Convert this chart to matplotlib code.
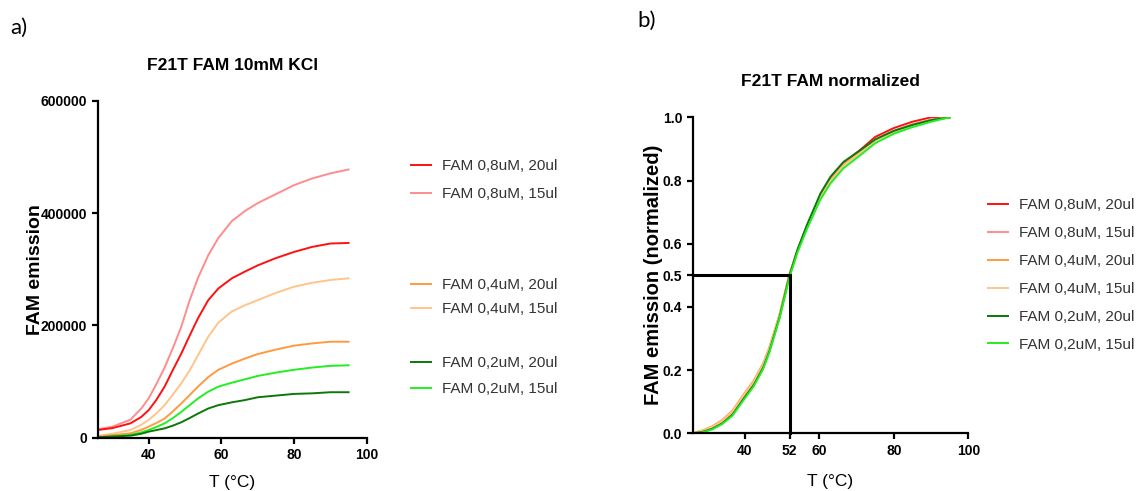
import matplotlib
matplotlib.use("Agg")
import matplotlib.pyplot as plt
from matplotlib.ticker import FuncFormatter

# ---------------- data ----------------
temp_a = [26, 30, 35, 38, 40, 42.1, 44.4, 46.7, 49, 51.3, 53.6, 56.4, 59.2, 62.9, 66.5, 70, 75, 80, 85, 90, 95]

# raw FAM emission (panel a)
fam08_20 = [13700, 17000, 25500, 37000, 49000, 67000, 91000, 121000, 150000, 182000, 213000, 245000,
            266000, 284000, 296000, 307000, 320000, 331000, 340000, 346000, 347000]
fam08_15 = [15000, 19600, 32000, 52000, 70000, 95000, 125000, 160000, 198000, 245000, 285000, 325000,
            356000, 386000, 404000, 418000, 434000, 450000, 462000, 471000, 478000]
fam04_20 = [2000, 4500, 7700, 14000, 19600, 26000, 34000, 47000, 61000, 76000, 91000, 108000,
            121000, 132000, 141000, 149000, 157000, 164000, 168000, 171000, 171000]
fam04_15 = [3000, 7000, 13700, 23000, 31500, 43000, 58000, 77000, 97000, 120000, 147000, 180000,
            205000, 225000, 236000, 245000, 258000, 269000, 276000, 281000, 284000]
fam02_20 = [600, 2000, 3600, 7000, 10700, 13500, 16600, 21500, 27500, 35000, 43000, 52000,
            58000, 63000, 67000, 72000, 75000, 78000, 79000, 81000, 81000]
fam02_15 = [600, 2500, 4800, 9500, 13700, 19000, 25500, 35000, 46000, 58000, 70000, 82000,
            91000, 98000, 104000, 110000, 116000, 121000, 125000, 128000, 129000]

# normalized FAM emission (panel b)
temp_b = [26, 28.5, 31.2, 33.9, 36.7, 39.6, 42.4, 44.9, 46.6, 49.3, 52, 54.2, 56.7, 60.3, 63, 66.5,
          71, 75, 80, 85, 90, 95]
norm08_20 = [0, .006, .017, .035, .064, .113, .158, .212, .265, .370, .500, .581, .656, .752, .806, .855,
             .897, .938, .966, .986, 1.0, 1.0]
norm08_15 = [0, .006, .018, .036, .065, .114, .159, .213, .266, .371, .501, .581, .655, .750, .803, .851,
             .892, .930, .958, .978, .993, 1.0]
norm04_20 = [0, .009, .022, .042, .072, .122, .167, .221, .273, .376, .505, .582, .654, .748, .800, .849,
             .889, .927, .956, .976, .991, 1.0]
norm04_15 = [0, .008, .020, .039, .069, .119, .163, .217, .270, .373, .503, .580, .652, .746, .798, .847,
             .887, .925, .954, .975, .990, 1.0]
norm02_20 = [0, .004, .014, .031, .059, .108, .153, .207, .260, .366, .500, .583, .660, .759, .812, .859,
             .896, .930, .957, .976, .991, 1.0]
norm02_15 = [0, .003, .012, .029, .056, .104, .149, .203, .256, .362, .494, .574, .647, .740, .791, .839,
             .880, .918, .948, .969, .986, 1.0]

labels = ["FAM 0,8uM, 20ul", "FAM 0,8uM, 15ul", "FAM 0,4uM, 20ul",
          "FAM 0,4uM, 15ul", "FAM 0,2uM, 20ul", "FAM 0,2uM, 15ul"]
colors = ["#FF1010", "#FF8C8C", "#FF9A40", "#FFC48C", "#0A780A", "#22EE22"]

xticks_a = [40, 60, 80, 100]
yticks_a = [0, 200000, 400000, 600000]
xticks_b = [40, 52, 60, 80, 100]
yticks_b = [0.0, 0.2, 0.4, 0.5, 0.6, 0.8, 1.0]
tm_x, tm_y = 52, 0.5

# ---------------- figure ----------------
plt.rcParams['font.family'] = ['Liberation Sans', 'DejaVu Sans']
fig = plt.figure(figsize=(11.4, 4.91), dpi=100)

ax_a = fig.add_axes([0.0857, 0.1086, 0.236, 0.6857])
ax_b = fig.add_axes([0.6076, 0.1175, 0.2418, 0.6436])

def style(ax, xpad):
    for s in ["top", "right"]:
        ax.spines[s].set_visible(False)
    for s in ["left", "bottom"]:
        ax.spines[s].set_linewidth(1.6)
        ax.spines[s].set_color("black")
    ax.tick_params(direction="out", length=4, width=1.6, labelsize=10)
    for lab in ax.get_xticklabels() + ax.get_yticklabels():
        lab.set_fontweight("bold")
    ax.set_xlabel("T (°C)", fontsize=12.5, labelpad=xpad)

series_a = [fam08_20, fam08_15, fam04_20, fam04_15, fam02_20, fam02_15]
order_a = [1, 0, 3, 2, 5, 4]
handles_a = {}
for i in order_a:
    h, = ax_a.plot(temp_a, series_a[i], color=colors[i], lw=1.4, label=labels[i])
    handles_a[i] = h
ax_a.set_xlim(26, 100)
ax_a.set_ylim(0, 600000)
ax_a.set_xticks(xticks_a)
ax_a.set_yticks(yticks_a)
ax_a.yaxis.set_major_formatter(FuncFormatter(lambda v, p: f"{int(v)}"))
style(ax_a, 9)
ax_a.set_ylabel("FAM emission", fontsize=14, fontweight="bold")
ax_a.yaxis.set_label_coords(-0.2, 0.5)
ax_a.set_title("F21T FAM 10mM KCl", fontsize=12.5, fontweight="bold", pad=22)

series_b = [norm08_20, norm08_15, norm04_20, norm04_15, norm02_20, norm02_15]
handles_b = []
for i in range(6):
    h, = ax_b.plot(temp_b, series_b[i], color=colors[i], lw=1.4, label=labels[i])
    handles_b.append(h)
ax_b.plot([26, tm_x], [tm_y, tm_y], color="black", lw=2.2, clip_on=False, zorder=5)
ax_b.plot([tm_x, tm_x], [0, tm_y], color="black", lw=2.2, clip_on=False, zorder=5)
ax_b.set_xlim(26, 100)
ax_b.set_ylim(0, 1.0)
ax_b.set_xticks(xticks_b)
ax_b.set_yticks(yticks_b)
ax_b.yaxis.set_major_formatter(FuncFormatter(lambda v, p: f"{v:.1f}"))
style(ax_b, 12)
ax_b.set_ylabel("FAM emission (normalized)", fontsize=14.5, fontweight="bold")
ax_b.yaxis.set_label_coords(-0.106, 0.5)
ax_b.set_title("F21T FAM normalized", fontsize=12.5, fontweight="bold", pad=22.5)

leg_kw = dict(loc="center left", frameon=False, fontsize=11, handlelength=1.3,
              handletextpad=0.75, borderpad=0, borderaxespad=0,
              labelcolor="#333333")
for pair, yc, sp in [((0, 1), 0.6334, 0.91), ((2, 3), 0.3951, 0.65), ((4, 5), 0.2342, 0.78)]:
    fig.legend([handles_a[j] for j in pair], [labels[j] for j in pair],
               bbox_to_anchor=(0.3605, yc), labelspacing=sp, **leg_kw)
fig.legend(handles_b, labels, bbox_to_anchor=(0.8667, 0.4399), labelspacing=0.91, **leg_kw)

fig.text(0.009, 0.943, "a)", fontsize=16, family=["Lato", "DejaVu Sans"], va="center")
fig.text(0.559, 0.958, "b)", fontsize=16, family=["Lato", "DejaVu Sans"], va="center")

fig.savefig("out.png", dpi=100)
